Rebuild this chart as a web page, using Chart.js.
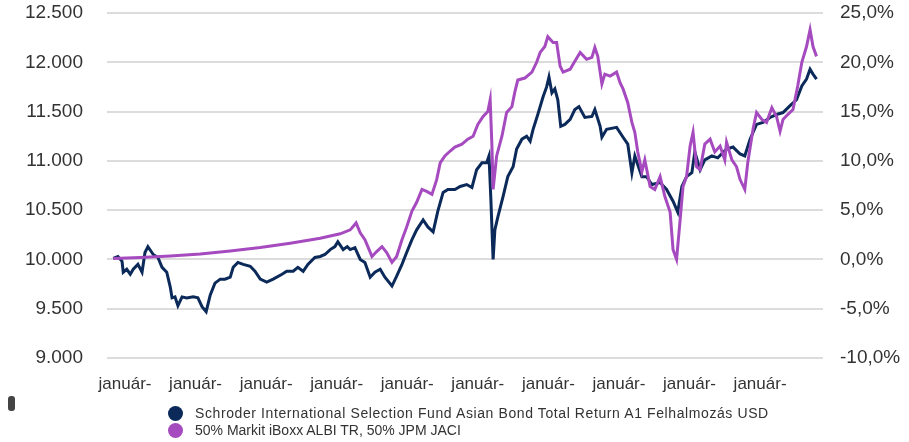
<!DOCTYPE html>
<html>
<head>
<meta charset="utf-8">
<script src="https://cdn.jsdelivr.net/npm/chart.js@4"></script>
<style>
    body { margin: 0; background: #fff; font-family: "Liberation Sans", Arial, sans-serif; }
    #wrap { position: relative; width: 909px; height: 442px; }
    #legend { position: absolute; left: 168px; top: 405px; font-size: 14px; color: #333; line-height: 17px; }
    .item { display: flex; align-items: center; white-space: nowrap; }
    .dot { width: 15px; height: 15px; border-radius: 50%; margin-right: 12px; }
    #mark { position: absolute; left: 8px; top: 396px; width: 7px; height: 15px; border-radius: 3px; background: #444; }
</style>
</head>
<body>
<div id="wrap">
    <canvas id="chart" width="909" height="442"></canvas>
    <div id="mark"></div>
    <div id="legend"></div>
</div>
<script>
// x = hónapok az első "január-" jelöléstől
const fundX = [-2.0,-1.2,-0.5,-0.3,0.3,0.9,1.4,2.2,2.9,3.4,3.9,4.8,5.6,6.3,7.1,7.7,8.0,8.5,9.0,9.7,10.5,11.6,12.4,13.1,13.8,14.5,15.3,16.2,17.0,17.9,18.4,19.2,20.1,21.3,22.1,23.0,24.1,25.2,26.7,27.5,28.6,29.4,30.3,31.1,32.3,33.2,34.0,34.9,35.7,36.2,37.1,37.8,38.3,39.1,40.0,40.8,41.7,42.5,43.4,44.2,45.4,46.2,47.1,47.9,48.8,49.6,50.7,51.5,52.4,53.2,54.1,54.9,56.1,57.0,58.1,59.0,59.8,60.7,61.5,61.9,62.2,62.6,62.9,63.4,64.3,65.1,66.0,66.6,67.5,68.3,68.9,69.4,70.2,71.1,71.7,72.1,72.6,73.1,73.6,74.1,74.8,75.7,76.5,77.2,78.2,79.4,79.9,80.8,81.1,81.9,83.6,84.7,85.5,86.2,86.7,87.9,88.7,89.6,91.0,92.1,93.2,94.0,94.7,95.5,96.4,96.9,97.8,98.6,99.8,100.8,102.3,103.4,104.6,105.4,106.3,107.4,108.5,109.7,110.8,111.9,113.1,114.2,115.1,115.9,116.5,117.0,117.6];
const fundValues = [10010,10030,9980,9870,9900,9850,9900,9950,9870,10070,10130,10050,10020,9920,9870,9720,9610,9620,9530,9620,9610,9620,9610,9520,9470,9640,9760,9800,9800,9820,9920,9970,9950,9930,9880,9800,9770,9800,9850,9880,9880,9920,9880,9950,10020,10030,10050,10100,10130,10180,10100,10130,10100,10120,10000,9970,9820,9870,9900,9820,9730,9830,9950,10070,10200,10300,10400,10330,10280,10490,10680,10710,10710,10740,10760,10730,10910,10980,10980,11050,10640,10000,10300,10430,10640,10840,10940,11120,11220,11250,11200,11320,11470,11650,11750,11850,11690,11730,11620,11350,11370,11420,11520,11550,11440,11450,11520,11350,11240,11320,11340,11240,11170,10880,11050,10840,10840,10760,10780,10710,10590,10480,10740,10840,10880,11090,10910,11010,11050,11030,11120,11140,11070,11050,11220,11370,11390,11440,11470,11490,11560,11620,11760,11830,11930,11880,11830];

const benchX = [-2.0,2.6,7.7,12.8,17.9,23.0,28.1,33.2,36.6,38.3,39.3,40.0,40.8,41.3,42.0,42.8,43.7,44.5,45.4,46.2,47.1,47.9,48.8,49.6,50.5,51.3,52.2,53.0,53.6,54.4,55.3,56.1,57.3,58.3,59.2,60.0,60.9,61.7,62.1,62.4,62.6,63.2,64.1,64.9,65.8,66.3,66.8,68.0,69.2,70.0,70.6,71.4,71.9,72.8,73.4,74.0,74.5,75.7,76.5,77.4,78.5,79.4,79.9,80.4,81.1,81.6,82.5,83.6,84.2,84.7,85.5,86.2,86.7,87.2,87.9,88.4,89.3,90.1,91.0,91.8,92.7,93.2,93.8,94.4,94.9,95.5,96.1,96.6,97.2,97.8,98.6,99.5,100.3,101.2,102.0,102.3,103.2,104.0,104.6,105.4,105.9,106.8,107.4,108.3,109.1,110.0,110.8,111.4,111.9,112.7,113.6,114.4,115.1,115.9,116.5,117.0,117.6];
const benchValues = [10010,10020,10035,10055,10085,10120,10165,10215,10260,10300,10370,10270,10200,10130,10030,10080,10130,10070,9970,10030,10200,10330,10490,10580,10710,10690,10660,10810,10980,11050,11100,11140,11170,11220,11250,11370,11450,11500,11620,11150,10710,11050,11250,11490,11550,11700,11820,11840,11900,12000,12100,12160,12260,12200,12200,11960,11900,11930,12010,12100,12030,12050,12150,12060,11780,11880,11860,11900,11790,11730,11590,11390,11290,11090,10890,11010,10740,10710,10840,10640,10480,10100,10000,10400,10740,10840,11150,11290,10940,10910,11170,11220,11090,11150,11010,11190,11010,10940,10810,10710,10980,11320,11490,11420,11390,11540,11450,11300,11420,11470,11520,11760,12000,12160,12330,12160,12060];

const xTicks = [0, 12, 24, 36, 48, 60, 72, 84, 96, 108];
const xTickLabel = 'január-';
const seriesNames = [
    'Schroder International Selection Fund Asian Bond Total Return A1 Felhalmozás USD',
    '50% Markit iBoxx ALBI TR, 50% JPM JACI'
];
const seriesColors = ['#0b2a5a', '#a64bbf'];

function toPoints(xs, ys) {
    return xs.map((x, i) => ({ x: x, y: ys[i] }));
}

const tickFont = { family: '"Liberation Sans", Arial, sans-serif', size: 19 };

// a rajzterület pontos helye: bal 107, jobb 823, felső 13, alsó 358
function fixVertical(width) {
    return scale => {
        scale.width = width;
        scale.paddingTop = 0;
        scale.paddingBottom = 0;
    };
}

new Chart(document.getElementById('chart').getContext('2d'), {
    type: 'line',
    data: {
        datasets: [
            {
                label: seriesNames[1],
                data: toPoints(benchX, benchValues),
                borderColor: seriesColors[1],
                borderWidth: 3,
                pointRadius: 0,
                tension: 0,
                yAxisID: 'y'
            },
            {
                label: seriesNames[0],
                data: toPoints(fundX, fundValues),
                borderColor: seriesColors[0],
                borderWidth: 3,
                pointRadius: 0,
                tension: 0,
                yAxisID: 'y'
            }
        ]
    },
    options: {
        responsive: false,
        animation: false,
        layout: { padding: { top: 13, bottom: 44, left: 0, right: 0 } },
        plugins: { legend: { display: false }, tooltip: { enabled: false } },
        scales: {
            x: {
                type: 'linear',
                min: -3.06,
                max: 118.7,
                afterBuildTicks: axis => { axis.ticks = xTicks.map(v => ({ value: v })); },
                afterFit: scale => {
                    scale.height = 40;
                    scale.paddingLeft = 0;
                    scale.paddingRight = 0;
                },
                grid: { display: false, drawTicks: false },
                border: { display: false },
                ticks: {
                    autoSkip: false,
                    maxRotation: 0,
                    padding: 16,
                    color: '#333',
                    font: { family: tickFont.family, size: 17 },
                    callback: () => xTickLabel
                }
            },
            y: {
                position: 'left',
                min: 9000,
                max: 12500,
                afterFit: fixVertical(107),
                grid: { color: '#dcdcdc', lineWidth: 2, drawTicks: false },
                border: { display: false },
                ticks: {
                    stepSize: 500,
                    padding: 24,
                    color: '#333',
                    font: tickFont,
                    callback: v => String(v).replace(/(\d)(\d{3})$/, '$1.$2')
                }
            },
            y2: {
                position: 'right',
                min: -10,
                max: 25,
                afterFit: fixVertical(86),
                grid: { display: false, drawTicks: false },
                border: { display: false },
                ticks: {
                    stepSize: 5,
                    padding: 17,
                    color: '#333',
                    font: tickFont,
                    callback: v => v.toFixed(1).replace('.', ',') + '%'
                }
            }
        }
    }
});

// Jelmagyarázat
const legend = document.getElementById('legend');
seriesNames.forEach((name, i) => {
    const spacing = i === 0 ? 'letter-spacing:0.6px;' : '';
    legend.innerHTML += `<div class="item" style="${spacing}"><span class="dot" style="background:${seriesColors[i]}"></span>${name}</div>`;
});
</script>
</body>
</html>
